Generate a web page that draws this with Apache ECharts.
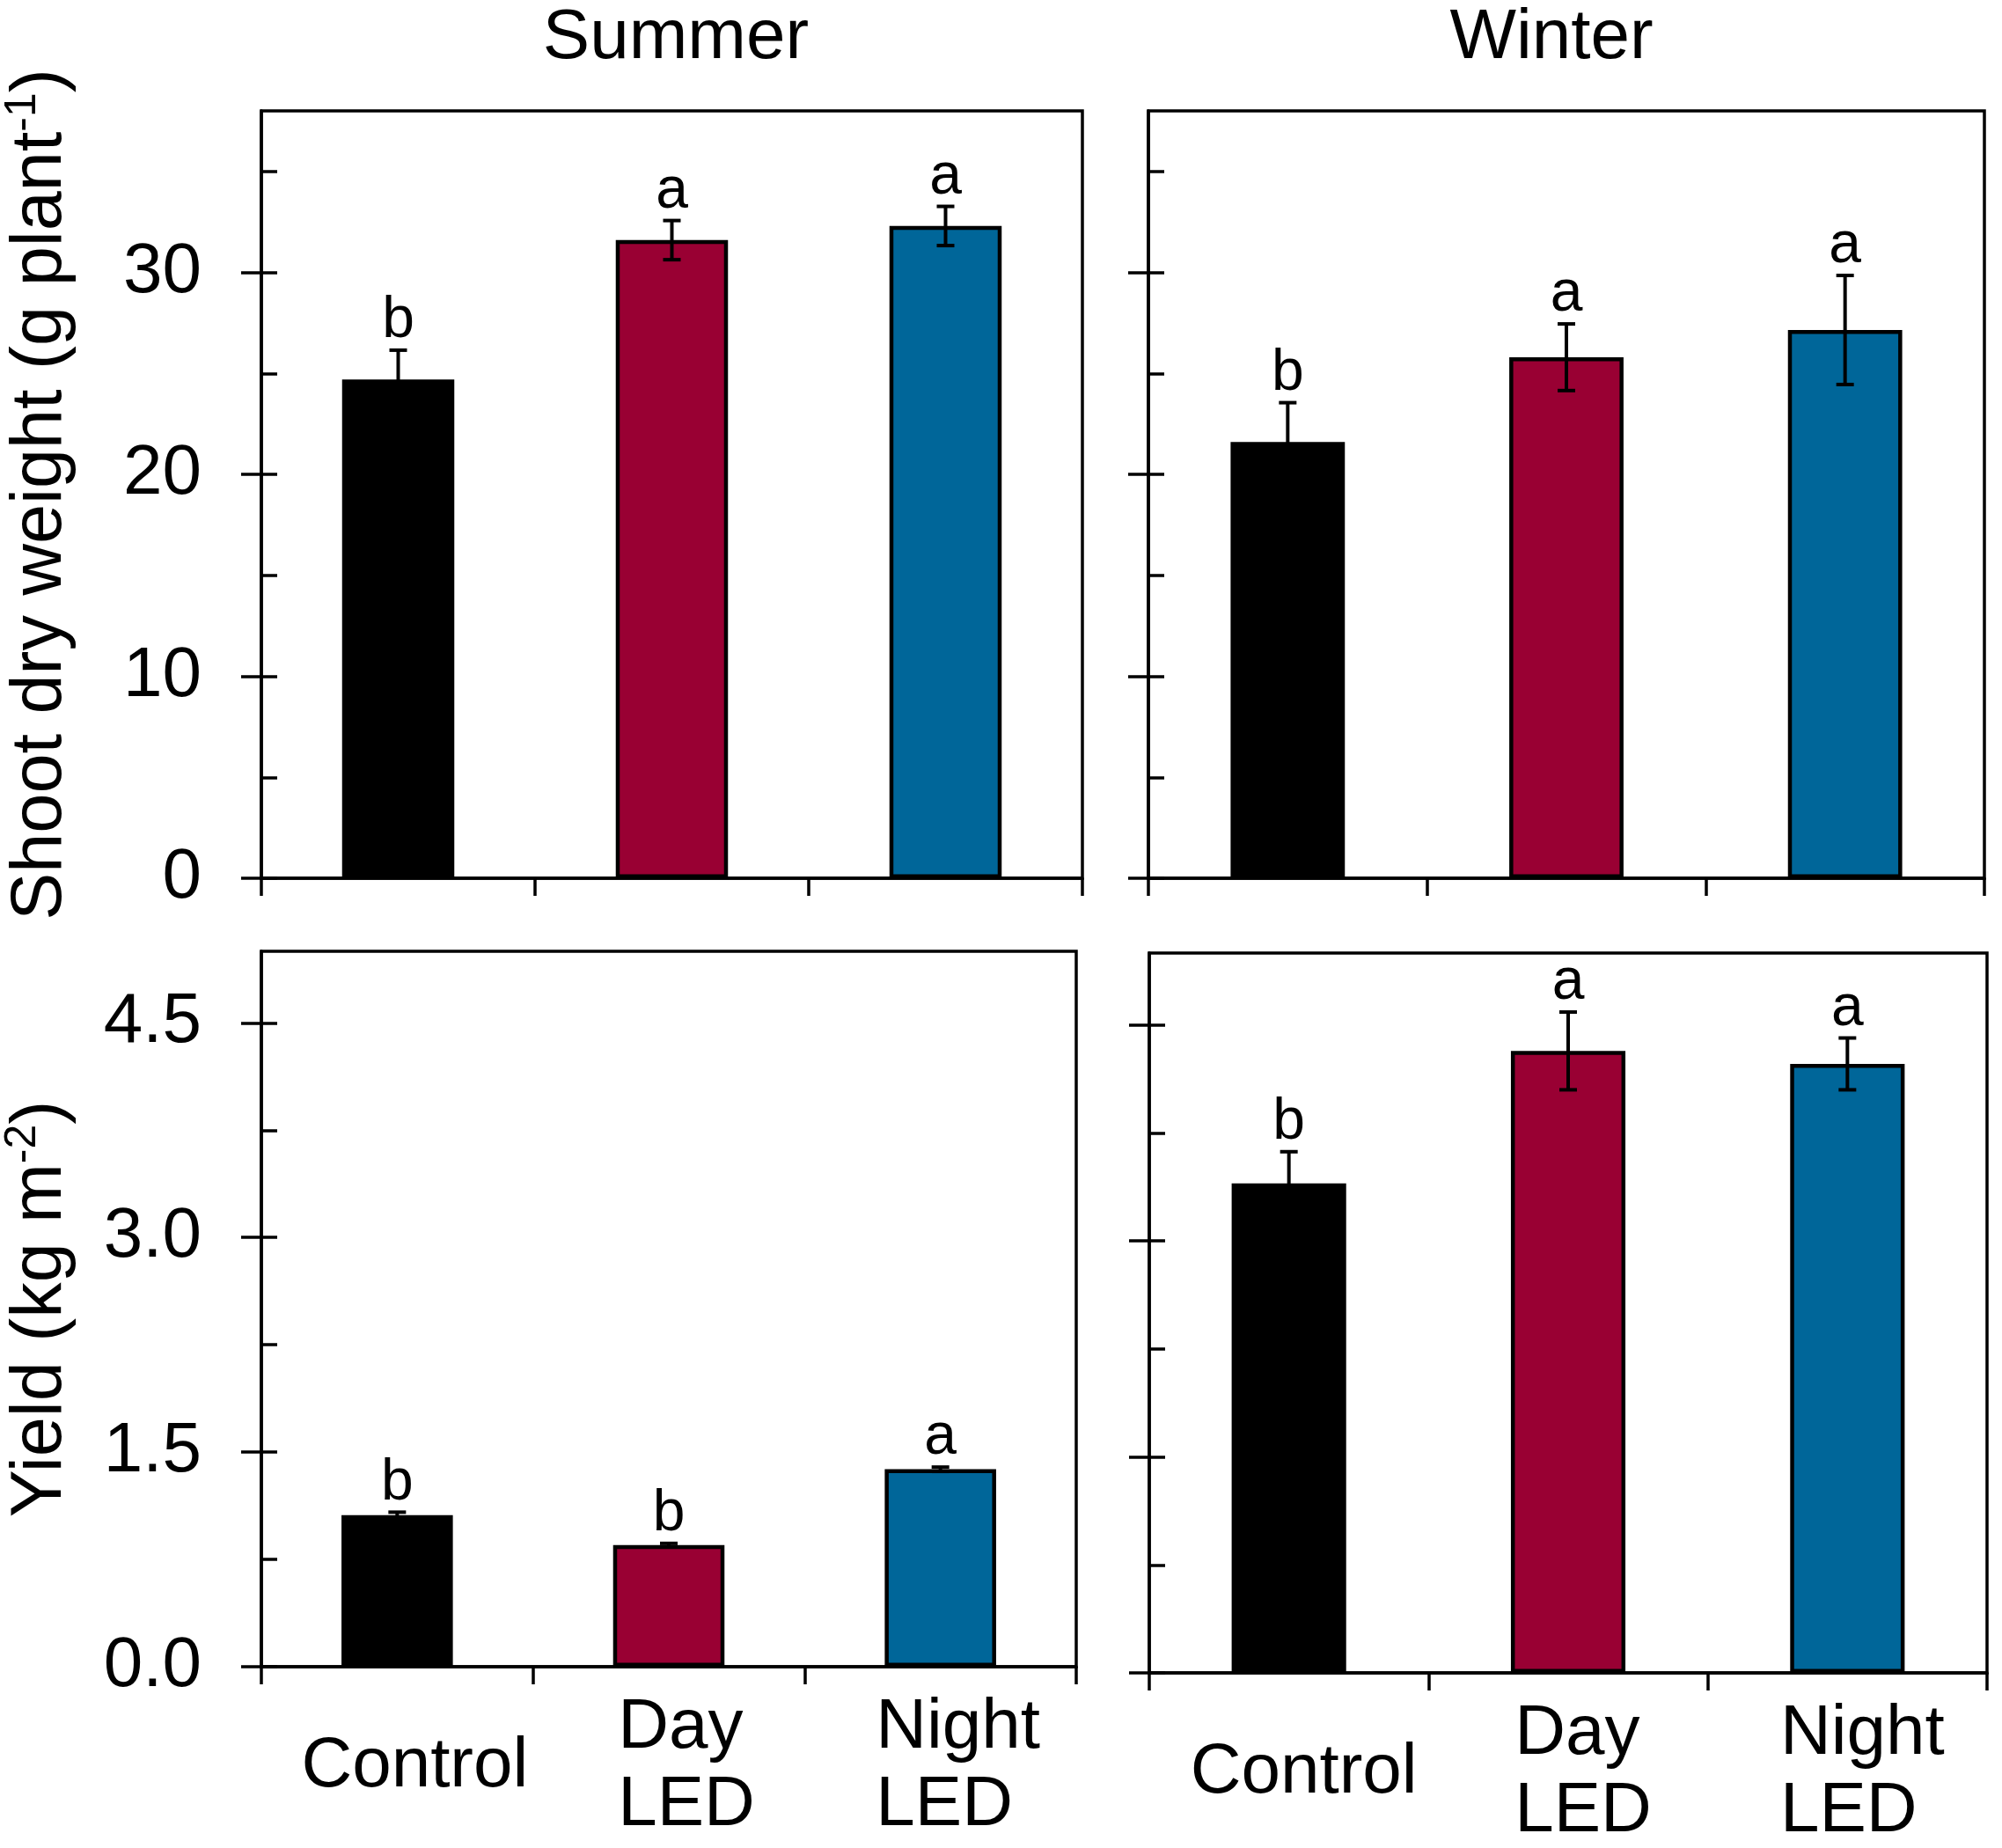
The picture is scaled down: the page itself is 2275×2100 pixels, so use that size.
<!DOCTYPE html>
<html>
<head>
<meta charset="utf-8">
<script src="https://cdn.jsdelivr.net/npm/echarts@6/dist/echarts.min.js"></script>
<style>
html,body{margin:0;padding:0;background:#fff;}
#chart{width:2275px;height:2100px;}
</style>
</head>
<body>
<div id="chart"></div>
<script>
// ---- data ----
const categories = ['Control', 'Day\nLED', 'Night\nLED'];
const barColors = ['#000000', '#990033', '#006699'];

const summerShoot = [24.7, 31.6, 32.3];
const summerShootErr = [1.45, 0.97, 0.97];
const summerShootLetters = ['b', 'a', 'a'];

const winterShoot = [21.6, 25.8, 27.15];
const winterShootErr = [1.95, 1.65, 2.7];
const winterShootLetters = ['b', 'a', 'a'];

const summerYield = [1.06, 0.85, 1.38];
const summerYieldErr = [0.02, 0.012, 0.015];
const summerYieldLetters = ['b', 'b', 'a'];

const winterYield = [3.40, 4.32, 4.23];
const winterYieldErr = [0.22, 0.27, 0.18];
const winterYieldLetters = ['b', 'a', 'a'];

const shootTicks = [0, 10, 20, 30];
const shootMinorTicks = [0, 5, 10, 15, 20, 25, 30, 35];
const yieldTicks = [0, 1.5, 3.0, 4.5];
const yieldMinorTicks = [0, 0.75, 1.5, 2.25, 3.0, 3.75, 4.5];

const panelTitles = ['Summer', 'Winter'];

// ---- chart ----
const FONT = '"Liberation Sans", Arial, sans-serif';
const chart = echarts.init(document.getElementById('chart'));

const grids = [
  {left: 293, top: 126, width: 937, height: 872},
  {left: 1305, top: 126, width: 950, height: 872},
  {left: 294, top: 1081, width: 929, height: 813},
  {left: 1306, top: 1083, width: 952, height: 818}
];

const panels = [
  {vals: summerShoot, err: summerShootErr, letters: summerShootLetters, max: 38, interval: 10, ticks: shootTicks, minor: shootMinorTicks, label: true, xlabel: false,
   name: '{n|Shoot dry weight (g plant}{s|-1}{n|)}', dec: 0},
  {vals: winterShoot, err: winterShootErr, letters: winterShootLetters, max: 38, interval: 10, ticks: shootTicks, minor: shootMinorTicks, label: false, xlabel: false, name: '', dec: 0},
  {vals: summerYield, err: summerYieldErr, letters: summerYieldLetters, max: 5, interval: 1.5, ticks: yieldTicks, minor: yieldMinorTicks, label: true, xlabel: true,
   name: '{n|Yield (kg m}{s|-2}{n|)}', dec: 1},
  {vals: winterYield, err: winterYieldErr, letters: winterYieldLetters, max: 5, interval: 1.5, ticks: yieldTicks, minor: yieldMinorTicks, label: false, xlabel: true, name: '', dec: 1}
];

const LW = 3.5;
const xAxes = [], yAxes = [], series = [];
panels.forEach((p, gi) => {
  xAxes.push({
    type: 'category', gridIndex: gi, data: categories, boundaryGap: true,
    axisLine: {show: true, lineStyle: {color: '#000', width: LW}},
    axisTick: {show: true, length: 20, interval: 0, alignWithLabel: false, lineStyle: {color: '#000', width: LW}},
    axisLabel: {
      show: p.xlabel, interval: 0, margin: 114, verticalAlign: 'middle',
      padding: [0, 0, 0, gi === 2 ? 40 : 34],
      formatter: v => v.split('\n').map(s => '{c|' + s + '}').join('\n'),
      rich: {c: {fontSize: 80, lineHeight: 88, fontFamily: FONT, color: '#000', align: 'left'}}
    },
    splitLine: {show: false}
  });
  const primaryIdx = yAxes.length;
  yAxes.push({
    type: 'value', gridIndex: gi, position: 'left', min: 0, max: p.max, interval: p.interval,
    axisLine: {show: true, lineStyle: {color: '#000', width: LW}},
    axisTick: {show: true, length: 23, customValues: p.ticks, lineStyle: {color: '#000', width: LW}},
    axisLabel: {show: p.label, customValues: p.ticks, margin: 68, fontSize: 80, fontFamily: FONT, color: '#000',
      formatter: v => Number(v).toFixed(p.dec)},
    splitLine: {show: false},
    name: p.name, nameLocation: 'middle', nameGap: 204,
    nameTextStyle: {
      rich: {
        n: {fontSize: 81, fontFamily: FONT, color: '#000', lineHeight: 92},
        s: {fontSize: 50, fontFamily: FONT, color: '#000', lineHeight: 92, verticalAlign: 'top'}
      }
    }
  });
  yAxes.push({
    type: 'value', gridIndex: gi, position: 'left', min: 0, max: p.max, interval: p.interval,
    axisLine: {show: false},
    axisTick: {show: true, inside: true, length: 18, customValues: p.minor, lineStyle: {color: '#000', width: LW}},
    axisLabel: {show: false},
    splitLine: {show: false}
  });
  series.push({
    type: 'bar', xAxisIndex: gi, yAxisIndex: primaryIdx, barWidth: '41%',
    data: p.vals.map((v, i) => ({value: v, itemStyle: {color: barColors[i], borderColor: '#000', borderWidth: 4.5}})),
    silent: true, animation: false, z: 2
  });
  series.push({
    type: 'custom', xAxisIndex: gi, yAxisIndex: primaryIdx, z: 5, animation: false, silent: true,
    data: p.vals.map((v, i) => [i, v, p.err[i]]),
    renderItem: (params, api) => {
      const i = api.value(0), v = api.value(1), e = api.value(2);
      const top = api.coord([i, v + e]);
      const bot = api.coord([i, v - e]);
      const x = top[0];
      const cw = 10;
      const ls = {stroke: '#000', lineWidth: 4};
      return {
        type: 'group',
        children: [
          {type: 'line', shape: {x1: x, y1: top[1], x2: x, y2: bot[1]}, style: ls},
          {type: 'line', shape: {x1: x - cw, y1: top[1], x2: x + cw, y2: top[1]}, style: ls},
          {type: 'line', shape: {x1: x - cw, y1: bot[1], x2: x + cw, y2: bot[1]}, style: ls},
          {type: 'text', x: x, y: top[1], style: {text: p.letters[params.dataIndex], fontSize: 66, fontFamily: FONT,
            fill: '#000', textAlign: 'center', textVerticalAlign: 'bottom'}}
        ]
      };
    }
  });
});

const option = {
  backgroundColor: '#fff',
  animation: false,
  grid: grids.map(g => Object.assign({show: true, borderColor: '#000', borderWidth: LW, backgroundColor: 'transparent', containLabel: false}, g)),
  xAxis: xAxes,
  yAxis: yAxes,
  series: series,
  graphic: [
    {type: 'text', x: 768, y: 44, style: {text: panelTitles[0], fontSize: 80, fontFamily: FONT, fill: '#000', textAlign: 'center', textVerticalAlign: 'middle'}},
    {type: 'text', x: 1763, y: 44, style: {text: panelTitles[1], fontSize: 80, fontFamily: FONT, fill: '#000', textAlign: 'center', textVerticalAlign: 'middle'}}
  ]
};
chart.setOption(option);
</script>
</body>
</html>
